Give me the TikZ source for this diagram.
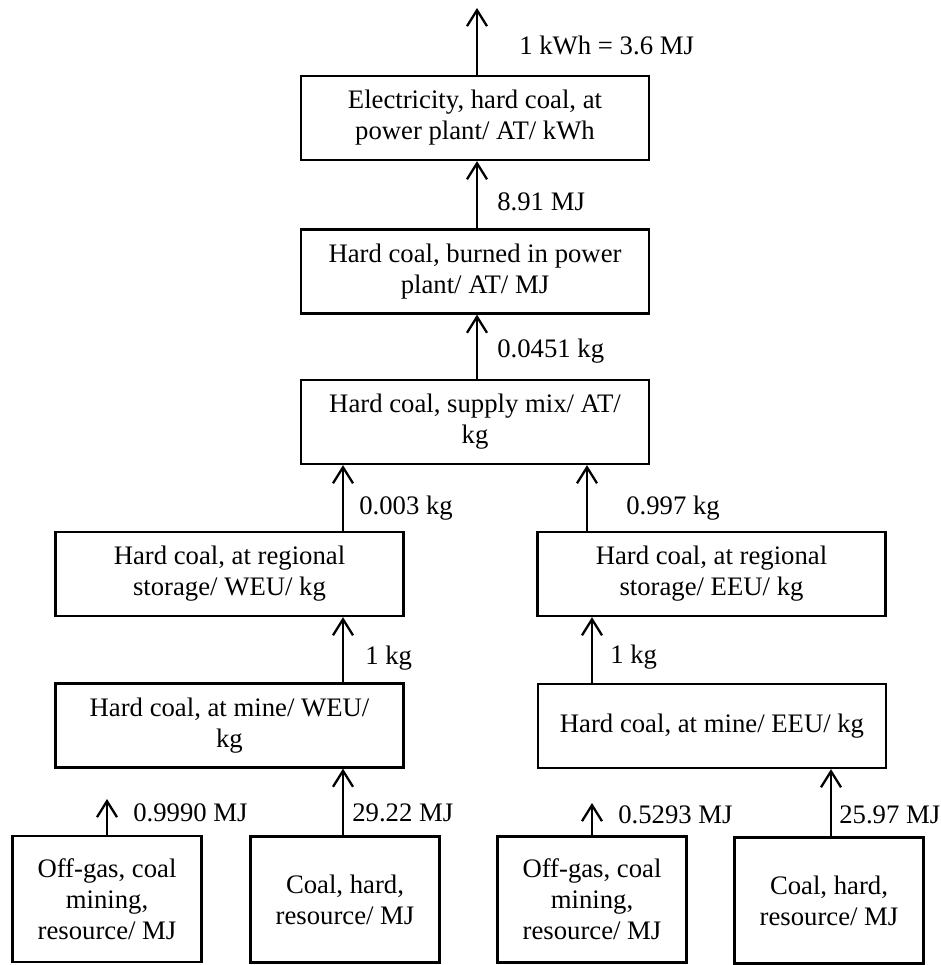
\documentclass[tikz,border=0pt]{standalone}
\usepackage{fontspec}
\setmainfont{Liberation Serif}
\usetikzlibrary{arrows.meta}

\begin{document}
\begin{tikzpicture}[
  font=\fontsize{15.2pt}{17.6pt}\selectfont,
  box/.style={draw, line width=1.3pt, align=center, inner sep=0pt,
    minimum width=6.96cm, minimum height=1.68cm},
  res/.style={box, minimum width=3.78cm, minimum height=2.52cm},
  flow/.style={line width=1.3pt, -{Straight Barb[length=0.32cm,width=0.4cm]}},
  lab/.style={anchor=west, inner sep=0pt}
]
\useasboundingbox (0,0) rectangle (18.82,19.30);

\node [box] (v1) at (9.50,16.94) {Electricity, hard coal, at\\power plant/ AT/ kWh};
\node [box] (v2) at (9.50,13.87) {Hard coal, burned in power\\plant/ AT/ MJ};
\node [box] (v3) at (9.50,10.86) {Hard coal, supply mix/ AT/\\kg};
\node [box] (v4) at (4.59,7.82) {Hard coal, at regional\\storage/ WEU/ kg};
\node [box] (v5) at (14.23,7.82) {Hard coal, at regional\\storage/ EEU/ kg};
\node [box] (v6) at (4.59,4.79) {Hard coal, at mine/ WEU/\\kg};
\node [box] (v7) at (14.24,4.78) {Hard coal, at mine/ EEU/ kg};
\node [res] (v8) at (2.14,1.32) {Off-gas, coal\\mining,\\resource/ MJ};
\node [res] (v9) at (6.90,1.31) {Coal, hard,\\resource/ MJ};
\node [res] (v10) at (11.84,1.31) {Off-gas, coal\\mining,\\resource/ MJ};
\node [res] (v11) at (16.58,1.29) {Coal, hard,\\resource/ MJ};

% columns and free ends
\coordinate (c1) at (9.54,0);
\coordinate (c2) at (6.86,0);
\coordinate (c3) at (11.74,0);
\coordinate (c4) at (11.84,0);
\coordinate (c5) at (16.62,0);
\coordinate (out) at (9.54,19.14);
\coordinate (g1) at (2.14,3.32);
\coordinate (g2) at (11.84,3.24);

\draw [flow] (v1.north -| c1) -- (out);
\draw [flow] (v2.north -| c1) -- (v1.south -| c1);
\draw [flow] (v3.north -| c1) -- (v2.south -| c1);
\draw [flow] (v4.north -| c2) -- (v3.south -| c2);
\draw [flow] (v5.north -| c3) -- (v3.south -| c3);
\draw [flow] (v6.north -| c2) -- (v4.south -| c2);
\draw [flow] (v7.north -| c4) -- (v5.south -| c4);
\draw [flow] (v8.north) -- (g1);
\draw [flow] (v9.north -| c2) -- (v6.south -| c2);
\draw [flow] (v10.north) -- (g2);
\draw [flow] (v11.north -| c5) -- (v7.south -| c5);

\node [lab] (l1) at (10.38,18.40) {1 kWh = 3.6 MJ};
\node [lab] (l2) at (9.94,15.26) {8.91 MJ};
\node [lab] (l3) at (9.94,12.28) {0.0451 kg};
\node [lab] (l4) at (7.18,9.14) {0.003 kg};
\node [lab] (l5) at (12.52,9.14) {0.997 kg};
\node [lab] (l6) at (7.30,6.14) {1 kg};
\node [lab] (l7) at (12.20,6.16) {1 kg};
\node [lab] (l8) at (2.66,3.04) {0.9990 MJ};
\node [lab] (l9) at (7.04,3.04) {29.22 MJ};
\node [lab] (l10) at (12.36,3.00) {0.5293 MJ};
\node [lab] (l11) at (16.78,3.00) {25.97 MJ};

\end{tikzpicture}
\end{document}
